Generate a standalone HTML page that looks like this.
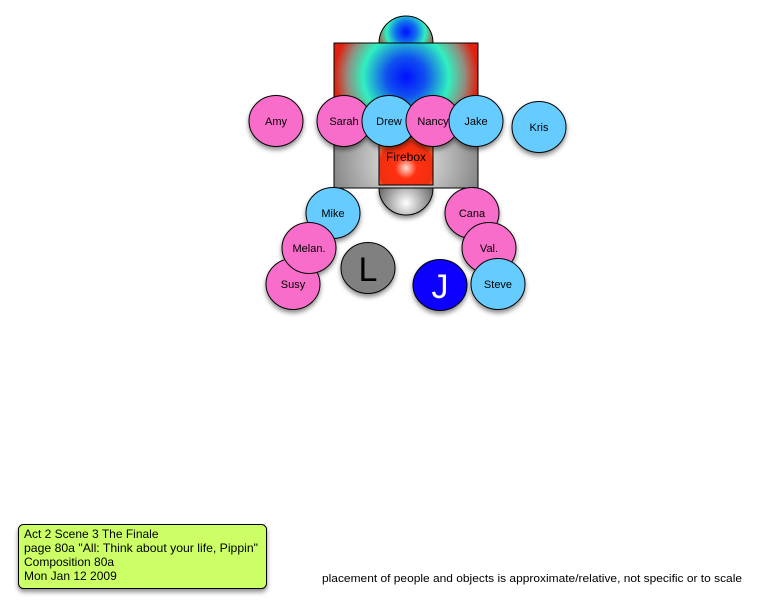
<!DOCTYPE html>
<html><head><style>
body{margin:0;width:759px;height:609px;background:#fff;overflow:hidden;font-family:"Liberation Sans",sans-serif}
</style></head><body>
<svg width="759" height="609" viewBox="0 0 759 609" xmlns="http://www.w3.org/2000/svg" font-family="Liberation Sans, sans-serif">
<defs>
<filter id="sh" x="-30%" y="-30%" width="160%" height="170%"><feDropShadow dx="0" dy="3" stdDeviation="2.5" flood-color="#000" flood-opacity="0.45"/></filter>
<radialGradient id="g1" cx="406" cy="77" r="78" gradientUnits="userSpaceOnUse">
<stop offset="0" stop-color="#0010ff"/><stop offset="0.25" stop-color="#1050f0"/><stop offset="0.55" stop-color="#30f0c0"/><stop offset="0.75" stop-color="#909080"/><stop offset="0.92" stop-color="#e02010"/><stop offset="1" stop-color="#e02010"/></radialGradient>
<radialGradient id="g0" cx="406" cy="32" r="30" gradientUnits="userSpaceOnUse">
<stop offset="0" stop-color="#0010ff"/><stop offset="0.35" stop-color="#1070f0"/><stop offset="0.65" stop-color="#30f0c0"/><stop offset="1" stop-color="#c04030"/></radialGradient>
<radialGradient id="gg" cx="406" cy="160" r="80" gradientUnits="userSpaceOnUse">
<stop offset="0" stop-color="#f4f4f4"/><stop offset="1" stop-color="#808080"/></radialGradient>
<radialGradient id="gf" cx="406" cy="168" r="36" gradientUnits="userSpaceOnUse">
<stop offset="0" stop-color="#ffe0d0"/><stop offset="0.3" stop-color="#ff3010"/><stop offset="0.75" stop-color="#f03010"/><stop offset="1" stop-color="#f0a060"/></radialGradient>
<radialGradient id="gb" cx="406" cy="203" r="28" gradientUnits="userSpaceOnUse">
<stop offset="0" stop-color="#ffffff"/><stop offset="1" stop-color="#707070"/></radialGradient>
</defs>
<path d="M379,43 A27,27 0 0 1 433,43 Z" fill="url(#g0)" stroke="#000"/>
<path d="M379,188 A27,27 0 0 0 433,188 Z" fill="url(#gb)" stroke="#000" filter="url(#sh)"/>
<rect x="334" y="43" width="144" height="145" fill="url(#gg)" stroke="#000"/>
<rect x="334.5" y="43.5" width="143" height="93" fill="url(#g1)"/>
<rect x="334" y="43" width="144" height="145" fill="none" stroke="#000"/>
<rect x="379" y="137" width="54" height="48" fill="url(#gf)" stroke="#000"/>
<text x="406" y="161" font-size="12" text-anchor="middle">Firebox</text>
<g filter="url(#sh)" stroke="#000" stroke-width="1" font-size="11" text-anchor="middle">
<g><ellipse cx="276" cy="121" rx="27" ry="25.5" fill="#f76dc9"/><text x="276" y="125" stroke="none">Amy</text></g>
<g><ellipse cx="344" cy="121" rx="27" ry="25.5" fill="#f76dc9"/><text x="344" y="125" stroke="none">Sarah</text></g>
<g><ellipse cx="389" cy="121" rx="27" ry="25.5" fill="#66ccff"/><text x="389" y="125" stroke="none">Drew</text></g>
<g><ellipse cx="433" cy="121" rx="27" ry="25.5" fill="#f76dc9"/><text x="433" y="125" stroke="none">Nancy</text></g>
<g><ellipse cx="476" cy="121" rx="27" ry="25.5" fill="#66ccff"/><text x="476" y="125" stroke="none">Jake</text></g>
<g><ellipse cx="539" cy="127" rx="27" ry="25.5" fill="#66ccff"/><text x="539" y="131" stroke="none">Kris</text></g>
<g><ellipse cx="333" cy="213" rx="27" ry="25.5" fill="#66ccff"/><text x="333" y="217" stroke="none">Mike</text></g>
<g><ellipse cx="293" cy="284" rx="27" ry="25.5" fill="#f76dc9"/><text x="293" y="288" stroke="none">Susy</text></g>
<g><ellipse cx="309" cy="248" rx="27" ry="25.5" fill="#f76dc9"/><text x="309" y="252" stroke="none">Melan.</text></g>
<g><ellipse cx="472" cy="213" rx="27" ry="25.5" fill="#f76dc9"/><text x="472" y="217" stroke="none">Cana</text></g>
<g><ellipse cx="489" cy="248" rx="27" ry="25.5" fill="#f76dc9"/><text x="489" y="252" stroke="none">Val.</text></g>
<g><ellipse cx="498" cy="284" rx="27" ry="25.5" fill="#66ccff"/><text x="498" y="288" stroke="none">Steve</text></g>
<g><ellipse cx="368" cy="268" rx="27" ry="25.5" fill="#808080"/><text x="368" y="281" font-size="34" stroke="none">L</text></g>
<g><ellipse cx="440" cy="285" rx="27" ry="25.5" fill="#0a00ff"/><text x="440" y="298" font-size="34" fill="#fff" stroke="none">J</text></g>
</g>
<rect x="18.5" y="524.5" width="248" height="64" rx="5" fill="#ccff66" stroke="#000" filter="url(#sh)"/>
<g font-size="12" fill="#000">
<text x="24" y="538">Act 2 Scene 3 The Finale</text>
<text x="24" y="552" textLength="234" lengthAdjust="spacingAndGlyphs">page 80a "All: Think about your life, Pippin"</text>
<text x="24" y="566">Composition 80a</text>
<text x="24" y="580">Mon Jan 12 2009</text>
</g>
<text x="322" y="582" font-size="11" textLength="420" lengthAdjust="spacingAndGlyphs">placement of people and objects is approximate/relative, not specific or to scale</text>
</svg>
</body></html>
